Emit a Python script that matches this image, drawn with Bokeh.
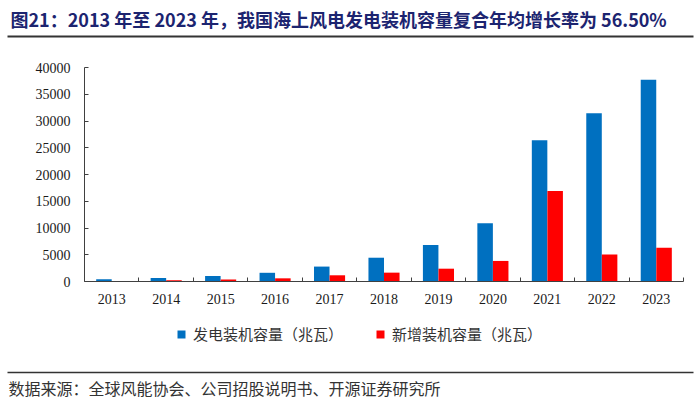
from bokeh.plotting import figure
from bokeh.models import (Range1d, FixedTicker, Legend, LegendItem, Label, LinearAxis,
                          ColumnDataSource, NumeralTickFormatter)
from bokeh.transform import dodge
from bokeh.embed import file_html
from bokeh.resources import INLINE

years = [2013, 2014, 2015, 2016, 2017, 2018, 2019, 2020, 2021, 2022, 2023]
cumulative = [428, 657, 1018, 1627, 2788, 4445, 6838, 10870, 26390, 31440, 37690]
new_added = [39, 229, 361, 592, 1161, 1655, 2395, 3843, 16900, 5050, 6330]
y_ticks = [0, 5000, 10000, 15000, 20000, 25000, 30000, 35000, 40000]

title_text = "图21：2013 年至 2023 年，我国海上风电发电装机容量复合年均增长率为 56.50%"
source_text = "数据来源：全球风能协会、公司招股说明书、开源证券研究所"
legend_labels = ["发电装机容量（兆瓦）", "新增装机容量（兆瓦）"]

CJK = "Noto Sans CJK SC"
SERIF = "Liberation Serif"
W, H = 700, 405

# plot-area geometry (pixels on the canvas)
AX_L, AX_R, AX_T, AX_B = 84, 683, 67, 281
x0, x1 = years[0] - 0.5, years[-1] + 0.5
y0, y1 = 0, 40000
xs = (AX_R - AX_L) / (x1 - x0)
ys = (AX_B - AX_T) / (y1 - y0)
x_left = x0 - AX_L / xs
y_top = y1 + AX_T / ys


def x_at(px):
    """data x for a canvas pixel column"""
    return x_left + px / xs


def y_at(py):
    """data y for a canvas pixel row (from the top)"""
    return y_top - py / ys


p = figure(width=W, height=H, output_backend="svg", toolbar_location=None,
           x_range=Range1d(x_left, x1 + (W - AX_R) / xs),
           y_range=Range1d(y0 - (H - AX_B) / ys, y_top),
           min_border=0, min_border_left=0, min_border_right=0,
           min_border_top=0, min_border_bottom=0)
p.outline_line_color = None
p.grid.grid_line_color = None

src = ColumnDataSource(dict(year=years, cum=cumulative, new=new_added))
r1 = p.vbar(x=dodge("year", -0.143, range=p.x_range), top="cum", width=0.285, source=src,
            fill_color="#0070C0", line_color=None)
r2 = p.vbar(x=dodge("year", 0.143, range=p.x_range), top="new", width=0.285, source=src,
            fill_color="#FF0000", line_color=None)

xa = p.xaxis[0]
xa.fixed_location = y0
xa.bounds = (x0, x1)
xa.ticker = FixedTicker(ticks=years, minor_ticks=[y - 0.5 for y in years] + [x1])
xa.major_tick_in = 0
xa.major_tick_out = 0
xa.minor_tick_in = 4
xa.minor_tick_out = 0
xa.minor_tick_line_color = "#404040"
xa.axis_line_color = "#404040"
xa.major_label_text_font = SERIF
xa.major_label_text_font_size = "14px"
xa.major_label_text_color = "#1a1a1a"
xa.major_label_standoff = 12

ya = p.yaxis[0]
ya.fixed_location = x0
ya.bounds = (y0, y1)
ya.ticker = FixedTicker(ticks=y_ticks)
ya.formatter = NumeralTickFormatter(format="0")
ya.major_tick_in = 4
ya.major_tick_out = 0
ya.minor_tick_line_color = None
ya.axis_line_color = "#404040"
ya.major_tick_line_color = "#404040"
ya.major_label_text_font = SERIF
ya.major_label_text_font_size = "14px"
ya.major_label_text_color = "#1a1a1a"
ya.major_label_standoff = 14

# decorative rules under the title and above the source note (tick-less axes)
for row, lw, side in [(35.5, 2, "above"), (372, 1.5, "below")]:
    rule = LinearAxis(fixed_location=y_at(row), bounds=(x_at(7), x_at(693)),
                      ticker=FixedTicker(ticks=[]), axis_line_color="#333333",
                      axis_line_width=lw, major_tick_line_color=None,
                      minor_tick_line_color=None, major_label_text_font_size="0px")
    p.add_layout(rule, side)

legend = Legend(items=[LegendItem(label=legend_labels[0], renderers=[r1]),
                       LegendItem(label=legend_labels[1], renderers=[r2])],
                orientation="horizontal", location=(176, H - 344),
                glyph_width=10, glyph_height=10, label_text_font=CJK,
                label_text_font_size="15px", label_text_color="#333333",
                spacing=32, label_standoff=7, border_line_color=None,
                background_fill_alpha=0, padding=0, margin=0)
p.add_layout(legend, "center")

p.add_layout(Label(x=10, y=H - 18, x_units="screen", y_units="screen", text=title_text,
                   text_font=CJK, text_font_style="bold", text_font_size="18px",
                   text_color="#1c2470", text_baseline="middle", text_align="left"))
p.add_layout(Label(x=8, y=H - 387, x_units="screen", y_units="screen", text=source_text,
                   text_font=CJK, text_font_size="16px", text_color="#333333",
                   text_baseline="middle", text_align="left"))

open("out.html", "w").write(file_html(p, INLINE))
